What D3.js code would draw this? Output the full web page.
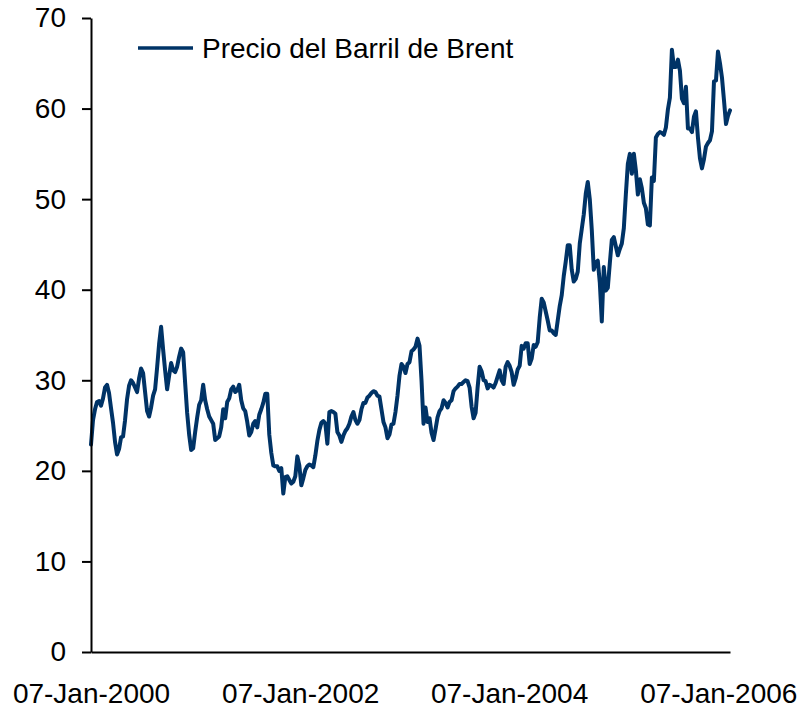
<!DOCTYPE html>
<html>
<head>
<meta charset="utf-8">
<script src="https://cdn.jsdelivr.net/npm/d3@7"></script>
<style>
  html, body { margin: 0; padding: 0; background: #ffffff; }
  svg { display: block; }
  text { font-family: "Liberation Sans", Arial, sans-serif; }
</style>
</head>
<body>
<svg id="chart" width="799" height="706"></svg>
<script>
// ---- Data (weekly Brent price, USD/barrel) ----
const seriesName = "Precio del Barril de Brent";
const startDate = "2000-01-07";           // first weekly observation
const brentWeekly = [
  22.9, 25.6, 26.8, 27.6, 27.7, 27.2, 28.0, 29.2, 29.5, 28.6,
  26.9, 25.3, 23.2, 21.8, 22.4, 23.7, 23.8, 25.6, 27.9, 29.4,
  30.0, 29.7, 29.2, 28.7, 30.2, 31.3, 30.8, 28.7, 26.6, 26.0,
  27.0, 28.3, 29.0, 31.4, 34.0, 35.9, 33.4, 31.1, 29.0, 30.5,
  31.9, 31.1, 30.9, 31.5, 32.6, 33.5, 33.1, 29.7, 26.4, 24.0,
  22.3, 22.5, 24.3, 25.9, 27.3, 27.8, 29.5, 27.8, 26.8, 26.0,
  25.6, 25.2, 23.4, 23.6, 23.8, 24.8, 26.8, 25.8, 27.6, 28.0,
  29.0, 29.3, 28.7, 28.9, 29.5, 27.8, 26.9, 26.6, 25.4, 23.9,
  24.3, 25.2, 25.5, 24.8, 26.2, 26.8, 27.5, 28.5, 28.5, 24.0,
  22.0, 20.6, 20.5, 20.5, 20.0, 20.3, 17.5, 19.3, 19.4, 19.0,
  18.6, 18.8, 19.4, 21.6, 20.6, 18.4, 19.2, 20.1, 20.5, 20.7,
  20.6, 20.4, 21.7, 23.3, 24.5, 25.3, 25.5, 25.2, 23.0, 26.5,
  26.6, 26.5, 26.3, 24.3, 23.9, 23.2, 23.9, 24.4, 24.7, 25.2,
  26.0, 26.5, 25.6, 25.2, 25.6, 26.8, 27.5, 27.5, 28.1, 28.3,
  28.6, 28.8, 28.7, 28.3, 28.2, 26.8, 25.4, 24.8, 23.6, 24.0,
  25.1, 25.2, 26.5, 28.3, 30.5, 31.8, 31.5, 30.8, 31.8, 32.0,
  33.2, 33.4, 33.7, 34.6, 33.8, 30.0, 25.2, 27.0, 25.4, 25.8,
  24.2, 23.4, 24.6, 25.9, 26.6, 26.9, 27.8, 27.5, 27.0, 27.6,
  27.8, 28.8, 29.1, 29.3, 29.6, 29.6, 29.8, 30.0, 29.9, 29.2,
  27.1, 25.8, 26.4, 29.2, 31.5, 31.0, 30.0, 29.9, 29.1, 29.5,
  29.4, 29.2, 29.7, 30.4, 31.1, 30.0, 29.6, 31.5, 32.0, 31.6,
  30.9, 29.5, 30.2, 31.2, 31.6, 33.8, 33.5, 34.1, 34.1, 31.8,
  32.4, 33.9, 33.7, 34.2, 36.9, 39.0, 38.6, 37.6, 36.6, 35.5,
  35.5, 35.2, 35.0, 36.6, 38.2, 39.4, 41.5, 43.1, 44.9, 44.9,
  42.2, 40.9, 41.2, 42.0, 45.1, 46.7, 48.3, 50.6, 51.9, 50.0,
  46.6, 42.2, 43.0, 43.2, 40.8, 36.5, 42.5, 39.9, 40.2, 42.9,
  45.5, 45.8, 44.8, 43.8, 44.5, 45.1, 46.8, 50.5, 53.9, 55.0,
  52.8, 55.0, 53.2, 50.5, 52.2, 51.2, 49.6, 49.0, 47.2, 47.1,
  52.4, 52.0, 56.8, 57.2, 57.4, 57.3, 57.1, 57.9, 59.9, 61.2,
  66.5, 64.6, 64.6, 65.4, 64.2, 61.1, 60.6, 62.4, 57.8, 57.8,
  57.4, 59.1, 59.7, 56.8, 54.5, 53.4, 54.4, 55.8, 56.2, 56.5,
  57.5, 63.0, 63.1, 66.3, 65.0, 63.4, 60.9, 58.3, 59.2, 59.8
];
const xTickLabels = ["07-Jan-2000", "07-Jan-2002", "07-Jan-2004", "07-Jan-2006"];
const yTicks = [0, 10, 20, 30, 40, 50, 60, 70];

(function () {
  // ---- Build series ----
  const parse = d3.timeParse("%Y-%m-%d");
  const parseLabel = d3.timeParse("%d-%b-%Y");
  const t0 = parse(startDate);
  const data = brentWeekly.map((v, i) => ({ date: d3.timeDay.offset(t0, 7 * i), value: v }));

  // ---- Layout ----
  const svg = d3.select("#chart");
  const mLeft = 91, mRight = 730, mTop = 18, mBottom = 652;
  const color = "#003366";
  const font = "'Liberation Sans', Arial, sans-serif";

  const x = d3.scaleTime()
    .domain([data[0].date, data[data.length - 1].date])
    .range([mLeft, mRight]);
  const y = d3.scaleLinear().domain([0, 70]).range([mBottom, mTop]);

  // Line
  const line = d3.line().x(d => x(d.date)).y(d => y(d.value));
  svg.append("path")
    .datum(data)
    .attr("fill", "none")
    .attr("stroke", color)
    .attr("stroke-width", 4)
    .attr("stroke-linejoin", "round")
    .attr("stroke-linecap", "round")
    .attr("d", line);

  // Y axis
  const yAxis = svg.append("g")
    .attr("transform", `translate(${mLeft},0)`)
    .call(d3.axisLeft(y).tickValues(yTicks).tickSize(9).tickSizeOuter(0).tickPadding(16).tickFormat(d3.format("d")));
  yAxis.select(".domain").attr("stroke", "#000").attr("stroke-width", 2);
  yAxis.selectAll(".tick line").attr("stroke", "#000").attr("stroke-width", 2);
  yAxis.selectAll(".tick text").attr("font-size", 28).attr("fill", "#000").attr("font-family", font);

  // X axis
  const xTickDates = xTickLabels.map(s => parseLabel(s));
  const xAxis = svg.append("g")
    .attr("transform", `translate(0,${mBottom})`)
    .call(d3.axisBottom(x).tickValues(xTickDates).tickSize(0).tickSizeOuter(0).tickPadding(31)
      .tickFormat((d, i) => xTickLabels[i]));
  xAxis.select(".domain").attr("stroke", "#000").attr("stroke-width", 2);
  xAxis.selectAll(".tick text").attr("font-size", 28).attr("fill", "#000").attr("font-family", font);

  // Legend
  const legend = svg.append("g");
  legend.append("line")
    .attr("x1", 138).attr("x2", 193).attr("y1", 48).attr("y2", 48)
    .attr("stroke", color).attr("stroke-width", 3.5);
  legend.append("text")
    .attr("x", 202).attr("y", 48).attr("dy", "0.35em")
    .attr("font-size", 28).attr("fill", "#000").attr("font-family", font)
    .text(seriesName);
})();
</script>
</body>
</html>
